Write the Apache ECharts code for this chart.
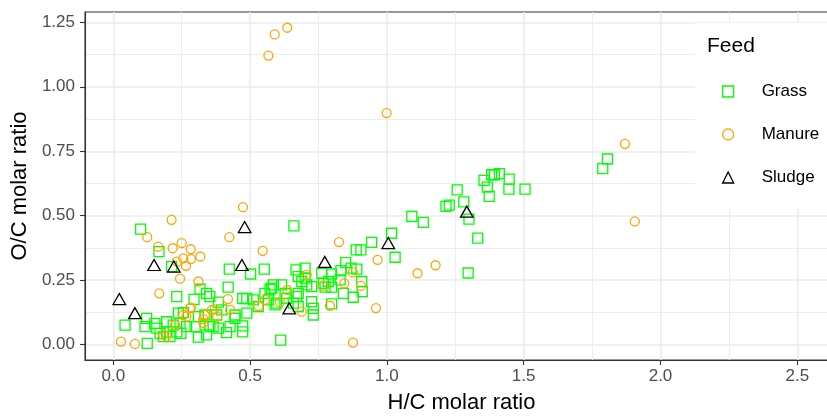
<!DOCTYPE html>
<html>
<head>
<meta charset="utf-8">
<script src="https://cdn.jsdelivr.net/npm/echarts@6/dist/echarts.min.js"></script>
<style>html,body{margin:0;padding:0;background:#fff}#c{width:827px;height:416px}</style>
</head>
<body>
<div id="c"></div>
<script>
const xTicks = [0, 0.5, 1.0, 1.5, 2.0, 2.5];
const xMinor = [0.25, 0.75, 1.25, 1.75, 2.25];
const yTicks = [0, 0.25, 0.5, 0.75, 1.0, 1.25];
const yMinor = [0.125, 0.375, 0.625, 0.875, 1.125];
const seriesNames = ['Grass', 'Manure', 'Sludge'];

const grass = [
[0.100,0.448],[0.167,0.361],[0.213,0.303],[0.232,0.186],[0.295,0.176],[0.317,0.215],[0.341,0.199],[0.043,0.076],[0.122,0.102],[0.124,0.005],[0.116,0.070],[0.152,0.083],[0.159,0.064],[0.171,0.044],[0.183,0.031],[0.195,0.050],[0.207,0.031],[0.219,0.076],[0.232,0.050],[0.244,0.083],[0.247,0.044],[0.238,0.122],[0.256,0.124],[0.268,0.070],[0.299,0.070],[0.311,0.109],[0.311,0.029],[0.335,0.115],[0.341,0.038],[0.353,0.070],[0.195,0.089],
[0.384,0.165],[0.424,0.293],[0.420,0.223],[0.502,0.274],[0.552,0.293],[0.473,0.179],[0.488,0.179],[0.488,0.122],[0.445,0.115],[0.473,0.073],[0.473,0.050],[0.414,0.047],[0.427,0.070],[0.378,0.115],[0.384,0.064],[0.612,0.018],[0.660,0.461],[0.530,0.148],[0.567,0.174],[0.573,0.215],[0.585,0.232],[0.615,0.232],[0.597,0.161],[0.658,0.161],[0.668,0.290],[0.676,0.264],
[0.353,0.186],[0.396,0.135],[0.445,0.102],[0.365,0.070],[0.554,0.199],[0.579,0.219],[0.591,0.154],[0.634,0.180],[0.628,0.199],[0.670,0.186],[0.676,0.199],[0.701,0.297],[0.701,0.258],[0.707,0.232],[0.689,0.245],[0.762,0.277],[0.768,0.238],[0.725,0.167],[0.731,0.141],[0.731,0.115],[0.676,0.148],[0.512,0.174],
[1.091,0.497],[1.133,0.474],[1.017,0.432],[0.944,0.397],[0.888,0.368],[0.905,0.368],[1.030,0.339],[0.849,0.318],[0.832,0.287],[0.798,0.274],[0.869,0.297],[0.890,0.293],[0.829,0.251],[0.786,0.245],[0.908,0.245],[0.798,0.223],[0.841,0.199],[0.877,0.184],[0.910,0.206],[0.798,0.158],[0.774,0.223],[0.725,0.225],
[1.216,0.536],[1.228,0.541],[1.257,0.600],[1.281,0.554],[1.300,0.487],[1.332,0.413],[1.297,0.278],[1.355,0.637],[1.367,0.611],[1.374,0.575],[1.383,0.659],[1.393,0.659],[1.411,0.663],[1.447,0.642],[1.446,0.603],[1.505,0.603],
[1.806,0.720],[1.789,0.683]
];

const manure = [
[0.567,1.121],[0.590,1.203],[0.636,1.229],[0.999,0.898],[1.870,0.779],[1.906,0.478],[0.825,0.398],[0.966,0.329],[1.178,0.308],[1.112,0.277],[0.960,0.142],[0.876,0.008],[0.905,0.228],[0.844,0.238],[0.792,0.151],[0.876,0.280],
[0.474,0.533],[0.424,0.417],[0.546,0.364],[0.419,0.177],[0.427,0.135],[0.371,0.137],[0.380,0.109],[0.636,0.212],[0.609,0.165],[0.530,0.150],[0.554,0.174],[0.707,0.271],[0.689,0.128],[0.768,0.228],
[0.213,0.484],[0.124,0.417],[0.164,0.380],[0.217,0.374],[0.250,0.394],[0.283,0.370],[0.256,0.335],[0.284,0.332],[0.318,0.342],[0.232,0.322],[0.266,0.306],[0.244,0.256],[0.311,0.245],[0.168,0.199],[0.280,0.141],[0.256,0.115],[0.028,0.012],[0.079,0.003],[0.183,0.038],[0.195,0.031],[0.226,0.076],[0.329,0.085],[0.360,0.135],[0.335,0.115],[0.268,0.109],[0.329,0.099],[0.284,0.145]
];

const sludge = [
[0.022,0.177],[0.079,0.122],[0.149,0.309],[0.221,0.303],[0.480,0.456],[0.470,0.309],[0.643,0.141],[0.773,0.321],[1.005,0.394],[1.292,0.516]
];

const FONT = "'Liberation Sans', Arial, sans-serif";
const XMIN = -0.1034, XMAX = 2.6488, YMIN = -0.0594, YMAX = 1.290;
const GRID_MAJOR = {show: true, lineStyle: {color: '#EBEBEB', width: 1.6}};
const GRID_MINOR = {show: true, lineStyle: {color: '#EBEBEB', width: 0.9}};

const styles = {
  Grass: {symbol: 'rect', size: 10, color: '#00FF00'},
  Manure: {symbol: 'circle', size: 9, color: '#FFA500'},
  Sludge: {symbol: 'triangle', size: [12.5, 11], color: '#000000'}
};
const dataMap = {Grass: grass, Manure: manure, Sludge: sludge};

const chart = echarts.init(document.getElementById('c'), null, {renderer: 'canvas'});
chart.setOption({
  animation: false,
  backgroundColor: '#fff',
  textStyle: {fontFamily: FONT},
  grid: {left: 85, top: 12, right: -11, bottom: 56, show: true, borderColor: '#333333', borderWidth: 1.1, backgroundColor: 'transparent', containLabel: false, outerBoundsMode: 'none'},
  title: {
    text: 'Feed', left: 707, top: 36, padding: 0, z: 10,
    textStyle: {fontFamily: FONT, fontSize: 21, fontWeight: 'normal', color: '#000'}
  },
  legend: {
    orient: 'vertical', left: 695, top: 23,
    padding: [60, 120, 23, 27],
    backgroundColor: '#ffffff',
    itemWidth: 11, itemHeight: 11, itemGap: 26,
    textStyle: {fontFamily: FONT, fontSize: 17, lineHeight: 17, color: '#000', padding: [0, 0, 0, 23]},
    data: seriesNames.map(n => ({
      name: n, icon: styles[n].symbol,
      itemStyle: {color: 'rgba(0,0,0,0)', borderColor: styles[n].color, borderWidth: 1.3}
    })),
    selectedMode: false
  },
  xAxis: [{
    type: 'value', min: XMIN, max: XMAX,
    name: 'H/C molar ratio', nameLocation: 'middle', nameGap: 32,
    nameTextStyle: {fontFamily: FONT, fontSize: 22, color: '#000'},
    axisLine: {show: true, onZero: false, lineStyle: {color: '#333333', width: 1.1}},
    axisTick: {show: true, length: 5, customValues: xTicks, lineStyle: {color: '#333333', width: 1.1}},
    axisLabel: {show: true, margin: 8, customValues: xTicks, formatter: v => v.toFixed(1), color: '#4D4D4D', fontSize: 17, fontFamily: FONT},
    splitLine: GRID_MAJOR
  }, {
    type: 'value', min: XMIN, max: XMAX, position: 'bottom',
    axisLine: {show: false}, axisLabel: {show: false},
    axisTick: {show: false, customValues: xMinor},
    splitLine: GRID_MINOR
  }],
  yAxis: [{
    type: 'value', min: YMIN, max: YMAX,
    name: 'O/C molar ratio', nameLocation: 'middle', nameGap: 53,
    nameTextStyle: {fontFamily: FONT, fontSize: 22, color: '#000'},
    axisLine: {show: true, onZero: false, lineStyle: {color: '#333333', width: 1.1}},
    axisTick: {show: true, length: 5, customValues: yTicks, lineStyle: {color: '#333333', width: 1.1}},
    axisLabel: {show: true, margin: 10, customValues: yTicks, formatter: v => v.toFixed(2), color: '#4D4D4D', fontSize: 17, fontFamily: FONT},
    splitLine: GRID_MAJOR
  }, {
    type: 'value', min: YMIN, max: YMAX, position: 'left',
    axisLine: {show: false}, axisLabel: {show: false},
    axisTick: {show: false, customValues: yMinor},
    splitLine: GRID_MINOR
  }],
  series: seriesNames.map(n => ({
    name: n, type: 'scatter', xAxisIndex: 0, yAxisIndex: 0,
    symbol: styles[n].symbol, symbolSize: styles[n].size,
    itemStyle: {color: 'rgba(0,0,0,0)', borderColor: styles[n].color, borderWidth: 1.3, opacity: 1},
    emphasis: {disabled: true},
    data: dataMap[n]
  }))
});
</script>
</body>
</html>
